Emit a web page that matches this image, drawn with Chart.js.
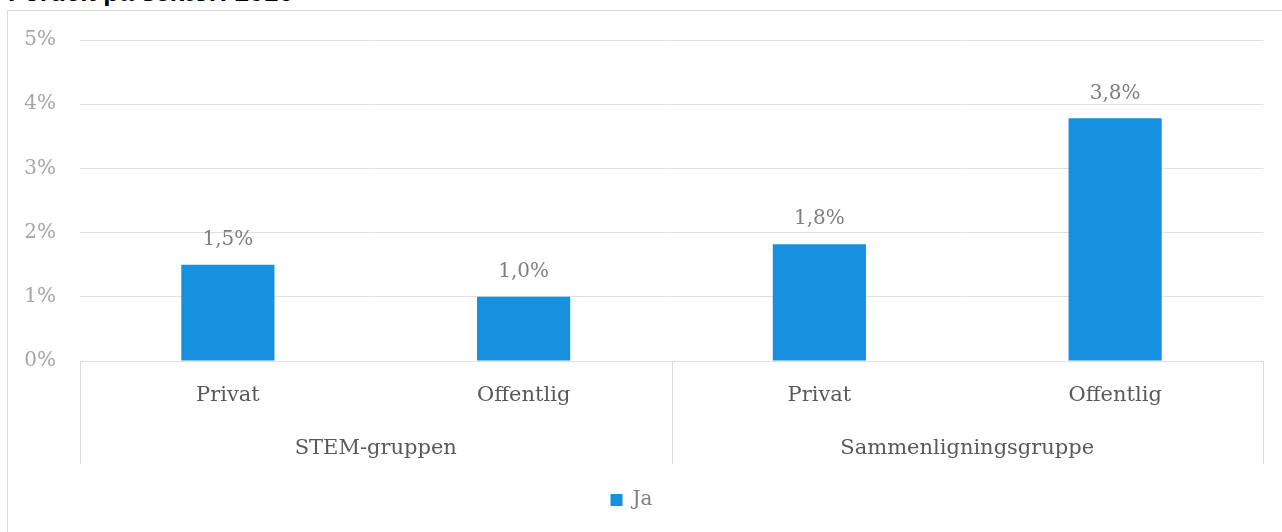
<!DOCTYPE html>
<html>
<head>
<meta charset="utf-8">
<script src="https://cdn.jsdelivr.net/npm/chart.js@4"></script>
<style>
    body { margin: 0; background: #fff; overflow: hidden; }
    #frame { position: absolute; left: 7px; top: 10px; width: 1300px; height: 600px; border: 1px solid #d9d9d9; }
    #title { position: absolute; left: 8px; top: -21px; font: bold 26px "Liberation Sans", Arial, sans-serif; line-height: 26px; color: #000; white-space: nowrap; }
    #wrap { position: absolute; left: 0; top: 0; width: 1282px; height: 532px; }
</style>
</head>
<body>
<div id="frame"></div>
<div id="title">Fordelt på sektor: 2016</div>
<div id="wrap"><canvas id="chart"></canvas></div>
<script>
const categories = ['Privat', 'Offentlig', 'Privat', 'Offentlig'];
const groups = ['STEM-gruppen', 'Sammenligningsgruppe'];
const jaValues = [1.5, 1.0, 1.82, 3.78];
const yTicks = [0, 1, 2, 3, 4, 5];

const serif = '"DejaVu Serif", serif';

// Value labels above bars
const barLabels = {
    id: 'barLabels',
    afterDatasetsDraw(chart) {
        const ctx = chart.ctx;
        const meta = chart.getDatasetMeta(0);
        ctx.save();
        ctx.font = '20px ' + serif;
        ctx.fillStyle = '#7f7f7f';
        ctx.textAlign = 'center';
        ctx.textBaseline = 'bottom';
        meta.data.forEach((bar, i) => {
            const txt = jaValues[i].toFixed(1).replace('.', ',') + '%';
            ctx.fillText(txt, bar.x, bar.y - 15);
        });
        ctx.restore();
    }
};

// Box lines for the grouped category axis
const groupLines = {
    id: 'groupLines',
    afterDraw(chart) {
        const ctx = chart.ctx;
        const area = chart.chartArea;
        const x2 = chart.scales.x2;
        const mid = (x2.getPixelForTick(0) + x2.getPixelForTick(1)) / 2;
        ctx.save();
        ctx.strokeStyle = '#d9d9d9';
        ctx.lineWidth = 1;
        [area.left, mid, area.right].forEach(x => {
            const px = Math.round(x) + 0.5;
            ctx.beginPath();
            ctx.moveTo(px, area.bottom);
            ctx.lineTo(px, x2.bottom);
            ctx.stroke();
        });
        ctx.restore();
    }
};

new Chart(document.getElementById('chart'), {
    type: 'bar',
    data: {
        labels: categories,
        datasets: [{
            label: 'Ja',
            data: jaValues,
            backgroundColor: '#1591e0',
            barPercentage: 0.315,
            categoryPercentage: 1
        }]
    },
    options: {
        responsive: true,
        maintainAspectRatio: false,
        animation: false,
        layout: { padding: { top: 40, right: 19, left: 0, bottom: 12 } },
        scales: {
            x: {
                grid: { display: false, drawTicks: false },
                border: { display: false },
                ticks: { color: '#595959', font: { family: serif, size: 21 }, padding: 22 },
                afterFit(scale) { scale.height = 60; }
            },
            x2: {
                type: 'category',
                labels: groups,
                position: 'bottom',
                offset: true,
                grid: { display: false, drawTicks: false },
                border: { display: false },
                ticks: { color: '#595959', font: { family: serif, size: 21 }, padding: 15 },
                afterFit(scale) { scale.height = 43; }
            },
            y: {
                min: 0,
                max: 5,
                afterBuildTicks(scale) { scale.ticks = yTicks.map(v => ({ value: v })); },
                grid: { color: '#e0e0e0', drawTicks: false },
                border: { display: false },
                ticks: {
                    color: '#a6a6a6',
                    font: { family: serif, size: 20 },
                    padding: 24,
                    callback: v => v + '%'
                },
                afterFit(scale) { scale.width = 80; }
            }
        },
        plugins: {
            legend: {
                position: 'bottom',
                labels: {
                    color: '#7f7f7f',
                    font: { family: serif, size: 20 },
                    boxWidth: 12,
                    boxHeight: 12,
                    padding: 26
                }
            },
            tooltip: { enabled: false }
        }
    },
    plugins: [barLabels, groupLines]
});
</script>
</body>
</html>
